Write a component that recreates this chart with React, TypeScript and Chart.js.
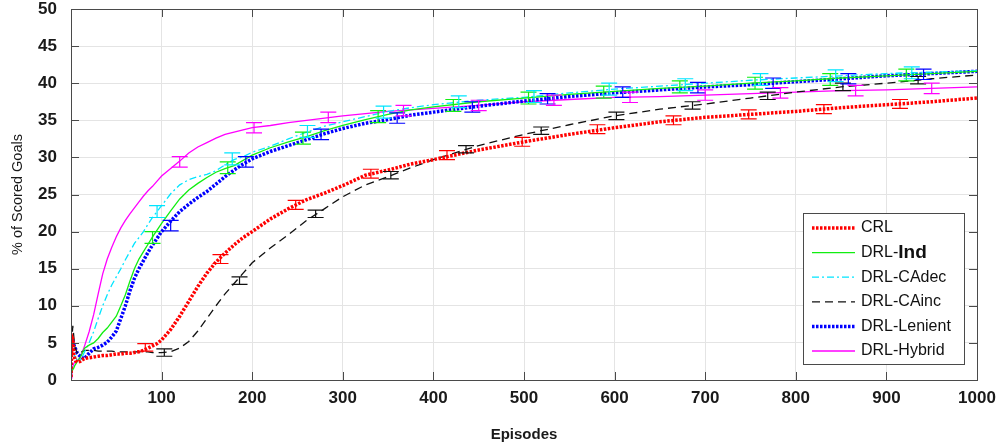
import React, { useEffect, useRef } from "react";
import { Chart, registerables } from "chart.js";

Chart.register(...registerables);

const EPISODES = [0, 1, 2, 3, 4, 5, 7, 10, 12, 15, 20, 25, 30, 35, 40, 45, 50, 55, 60, 65, 70, 75, 80, 85, 90, 95, 100, 110, 120, 130, 140, 150, 160, 170, 180, 190, 200, 220, 240, 260, 280, 300, 325, 350, 375, 400, 450, 500, 550, 600, 650, 700, 750, 800, 850, 900, 950, 1000];

const CRL = [0.4, 5.8, 5.5, 3.5, 3.0, 2.6, 2.4, 2.5, 2.7, 2.9, 3.0, 3.1, 3.2, 3.3, 3.3, 3.4, 3.5, 3.5, 3.6, 3.6, 3.7, 3.8, 4.0, 4.3, 4.6, 4.9, 5.4, 6.8, 8.6, 10.6, 12.6, 14.4, 15.9, 17.1, 18.2, 19.2, 20.0, 21.7, 23.1, 24.3, 25.2, 26.2, 27.6, 28.3, 29.1, 29.7, 31.0, 32.1, 33.1, 34.0, 34.8, 35.4, 35.8, 36.2, 36.7, 37.1, 37.5, 38.0];
const DRL_IND = [1.0, 1.2, 1.4, 1.6, 1.9, 2.1, 2.5, 3.0, 3.5, 4.3, 4.7, 5.0, 5.6, 6.4, 7.0, 7.8, 8.6, 10.0, 11.5, 13.3, 15.0, 16.3, 17.3, 18.3, 19.3, 20.2, 21.1, 22.8, 24.4, 25.6, 26.5, 27.3, 28.0, 28.5, 28.9, 29.6, 30.3, 31.3, 32.1, 32.8, 33.6, 34.3, 35.1, 35.8, 36.4, 36.8, 37.5, 38.0, 38.5, 38.9, 39.3, 39.6, 40.0, 40.3, 40.7, 41.0, 41.3, 41.6];
const DRL_CADEC = [2.5, 3.5, 4.0, 3.8, 3.3, 3.0, 2.7, 2.6, 3.0, 3.8, 5.0, 6.5, 8.3, 10.0, 11.5, 12.8, 13.9, 15.0, 16.2, 17.3, 18.4, 19.2, 20.0, 21.0, 21.9, 22.7, 23.5, 25.1, 26.3, 27.0, 27.4, 27.7, 28.2, 29.0, 29.7, 30.1, 30.7, 31.5, 32.5, 33.4, 34.2, 34.8, 35.5, 36.2, 36.7, 37.1, 37.7, 38.1, 38.7, 39.2, 39.6, 40.0, 40.4, 40.7, 41.0, 41.3, 41.5, 41.7];
const DRL_CAINC = [3.0, 5.5, 7.3, 6.0, 4.6, 4.2, 3.6, 3.5, 3.8, 4.0, 4.0, 4.0, 3.9, 3.9, 3.9, 3.9, 3.8, 3.8, 3.8, 3.8, 3.8, 3.8, 3.8, 3.8, 3.7, 3.7, 3.7, 3.8, 4.3, 5.2, 6.6, 8.3, 10.0, 11.6, 13.0, 14.4, 15.8, 17.8, 19.6, 21.5, 23.1, 24.7, 26.3, 27.4, 28.6, 29.7, 31.6, 33.1, 34.4, 35.6, 36.5, 37.2, 38.0, 38.8, 39.5, 40.0, 40.6, 41.1];
const DRL_LENIENT = [3.5, 5.5, 5.3, 4.8, 4.5, 4.2, 3.6, 3.2, 3.0, 2.9, 3.6, 4.2, 4.4, 4.7, 5.1, 5.8, 6.6, 8.3, 10.0, 12.0, 13.7, 15.0, 16.1, 17.2, 18.2, 19.1, 20.0, 21.4, 22.7, 23.7, 24.6, 25.4, 26.4, 27.4, 28.3, 29.1, 29.8, 30.8, 31.6, 32.4, 33.2, 33.9, 34.6, 35.1, 35.7, 36.1, 36.9, 37.6, 38.2, 38.7, 39.1, 39.5, 39.8, 40.2, 40.6, 41.0, 41.3, 41.6];
const DRL_HYBRID = [0.3, 1.0, 1.8, 2.2, 2.4, 2.4, 2.6, 3.0, 3.6, 4.6, 6.5, 8.8, 11.6, 14.3, 16.3, 17.9, 19.3, 20.5, 21.5, 22.4, 23.2, 24.0, 24.8, 25.5, 26.1, 26.8, 27.5, 28.5, 29.5, 30.6, 31.4, 32.0, 32.6, 33.1, 33.4, 33.7, 34.0, 34.3, 34.7, 35.0, 35.3, 35.6, 35.9, 36.2, 36.4, 36.6, 37.0, 37.5, 37.8, 38.1, 38.2, 38.4, 38.6, 38.8, 39.0, 39.1, 39.3, 39.5];

// Error bars (episode, mean, half-width)
const CRL_ERR_EP = [82, 165, 248, 331, 415, 498, 581, 665, 748, 831, 915];
const CRL_ERR_MEAN = [4.4, 16.3, 23.6, 27.8, 30.3, 32.1, 33.8, 35.0, 35.8, 36.5, 37.2];
const CRL_ERR_HALF = [0.5, 0.6, 0.6, 0.6, 0.6, 0.6, 0.6, 0.6, 0.6, 0.6, 0.6];
const IND_ERR_EP = [90, 173, 256, 339, 422, 505, 588, 672, 755, 838, 922];
const IND_ERR_MEAN = [19.2, 28.6, 32.6, 35.5, 37.0, 38.0, 38.8, 39.5, 40.0, 40.5, 41.1];
const IND_ERR_HALF = [0.8, 0.8, 0.8, 0.8, 0.8, 0.8, 0.8, 0.8, 0.8, 0.8, 0.8];
const CADEC_ERR_EP = [95, 178, 261, 345, 428, 511, 594, 678, 761, 844, 928];
const CADEC_ERR_MEAN = [22.7, 29.8, 33.5, 36.1, 37.5, 38.2, 39.2, 39.8, 40.5, 41.0, 41.4];
const CADEC_ERR_HALF = [0.8, 0.8, 0.8, 0.8, 0.8, 0.8, 0.8, 0.8, 0.8, 0.8, 0.8];
const CAINC_ERR_EP = [103, 186, 270, 353, 436, 519, 602, 686, 769, 852, 935];
const CAINC_ERR_MEAN = [3.7, 13.4, 22.4, 27.6, 31.1, 33.6, 35.6, 37.0, 38.3, 39.5, 40.4];
const CAINC_ERR_HALF = [0.5, 0.5, 0.5, 0.5, 0.5, 0.5, 0.5, 0.5, 0.5, 0.5, 0.5];
const LEN_ERR_EP = [110, 193, 276, 360, 443, 526, 609, 692, 775, 858, 941];
const LEN_ERR_MEAN = [20.8, 29.4, 33.1, 35.3, 36.8, 37.9, 38.8, 39.4, 40.0, 40.6, 41.2];
const LEN_ERR_HALF = [0.7, 0.7, 0.7, 0.7, 0.7, 0.7, 0.7, 0.7, 0.7, 0.7, 0.7];
const HYB_ERR_EP = [120, 202, 284, 367, 450, 533, 617, 700, 783, 866, 950];
const HYB_ERR_MEAN = [29.4, 34.0, 35.4, 36.3, 37.0, 37.7, 38.1, 38.4, 38.7, 39.0, 39.3];
const HYB_ERR_HALF = [0.7, 0.7, 0.7, 0.7, 0.7, 0.7, 0.7, 0.7, 0.7, 0.7, 0.7];

const SERIES_LABELS = ["CRL", "DRL-Ind", "DRL-CAdec", "DRL-CAinc", "DRL-Lenient", "DRL-Hybrid"];
const X_TICKS = [100, 200, 300, 400, 500, 600, 700, 800, 900, 1000];
const Y_TICKS = [0, 5, 10, 15, 20, 25, 30, 35, 40, 45, 50];

const FONT = "'Liberation Sans', Arial, Helvetica, sans-serif";

const errorBarPlugin = {
  id: "errorBars",
  afterDatasetsDraw(chart: any) {
    const { ctx, scales } = chart;
    const xs = scales.x;
    const ys = scales.y;
    chart.data.datasets.forEach((ds: any) => {
      const eb = ds.errorBars;
      if (!eb) return;
      ctx.save();
      ctx.strokeStyle = ds.borderColor;
      ctx.lineWidth = 1.2;
      ctx.setLineDash([]);
      eb.ep.forEach((e: number, i: number) => {
        const px = xs.getPixelForValue(e);
        const top = ys.getPixelForValue(eb.mean[i] + eb.half[i]);
        const bot = ys.getPixelForValue(eb.mean[i] - eb.half[i]);
        const cap = 8;
        ctx.beginPath();
        ctx.moveTo(px, top);
        ctx.lineTo(px, bot);
        ctx.moveTo(px - cap, top);
        ctx.lineTo(px + cap, top);
        ctx.moveTo(px - cap, bot);
        ctx.lineTo(px + cap, bot);
        ctx.stroke();
      });
      ctx.restore();
    });
  },
};

const framePlugin = {
  id: "frame",
  afterDraw(chart: any) {
    const { ctx, chartArea, scales } = chart;
    const { left, right, top, bottom } = chartArea;
    ctx.save();
    ctx.strokeStyle = "#4a4a4a";
    ctx.lineWidth = 1;
    ctx.setLineDash([]);
    ctx.strokeRect(Math.round(left) + 0.5, Math.round(top) + 0.5, Math.round(right - left), Math.round(bottom - top));
    const tl = 8;
    ctx.beginPath();
    X_TICKS.forEach((v) => {
      const px = Math.round(scales.x.getPixelForValue(v)) + 0.5;
      ctx.moveTo(px, bottom);
      ctx.lineTo(px, bottom - tl);
      ctx.moveTo(px, top);
      ctx.lineTo(px, top + tl);
    });
    Y_TICKS.forEach((v) => {
      const py = Math.round(scales.y.getPixelForValue(v)) + 0.5;
      ctx.moveTo(left, py);
      ctx.lineTo(left + tl, py);
      ctx.moveTo(right, py);
      ctx.lineTo(right - tl, py);
    });
    ctx.stroke();

    // legend
    const bx = right - 174;
    const by = top + 204;
    const bw = 161;
    const bh = 151;
    ctx.fillStyle = "#ffffff";
    ctx.fillRect(bx, by, bw, bh);
    ctx.strokeStyle = "#4a4a4a";
    ctx.strokeRect(bx + 0.5, by + 0.5, bw, bh);
    chart.data.datasets.forEach((ds: any, i: number) => {
      const cy = by + 15 + i * 24.6;
      ctx.save();
      ctx.strokeStyle = ds.borderColor;
      ctx.lineWidth = ds.borderWidth;
      ctx.setLineDash(ds.borderDash || []);
      ctx.beginPath();
      ctx.moveTo(bx + 9, cy);
      ctx.lineTo(bx + 52, cy);
      ctx.stroke();
      ctx.restore();
      ctx.fillStyle = "#111";
      ctx.textBaseline = "middle";
      ctx.textAlign = "left";
      const tx = bx + 58;
      if (ds.label === "DRL-Ind") {
        ctx.font = `16px ${FONT}`;
        ctx.fillText("DRL-", tx, cy);
        const w = ctx.measureText("DRL-").width;
        ctx.font = `bold 19px ${FONT}`;
        ctx.fillText("Ind", tx + w, cy);
      } else {
        ctx.font = `16px ${FONT}`;
        ctx.fillText(ds.label, tx, cy);
      }
    });
    ctx.restore();
  },
};

function pts(vals: number[]) {
  return EPISODES.map((x, i) => ({ x, y: vals[i] }));
}

export default function App() {
  const ref = useRef<HTMLCanvasElement | null>(null);
  useEffect(() => {
    if (!ref.current) return;
    const chart = new Chart(ref.current, {
      type: "line",
      data: {
        datasets: [
          {
            label: SERIES_LABELS[0],
            data: pts(CRL),
            borderColor: "#ff0000",
            borderWidth: 3.5,
            borderDash: [2.5, 1.5],
            errorBars: { ep: CRL_ERR_EP, mean: CRL_ERR_MEAN, half: CRL_ERR_HALF },
          } as any,
          {
            label: SERIES_LABELS[1],
            data: pts(DRL_IND),
            borderColor: "#11ee11",
            borderWidth: 1.3,
            borderDash: [],
            errorBars: { ep: IND_ERR_EP, mean: IND_ERR_MEAN, half: IND_ERR_HALF },
          } as any,
          {
            label: SERIES_LABELS[2],
            data: pts(DRL_CADEC),
            borderColor: "#00e5ff",
            borderWidth: 1.3,
            borderDash: [7, 3, 2, 3],
            errorBars: { ep: CADEC_ERR_EP, mean: CADEC_ERR_MEAN, half: CADEC_ERR_HALF },
          } as any,
          {
            label: SERIES_LABELS[3],
            data: pts(DRL_CAINC),
            borderColor: "#111111",
            borderWidth: 1.3,
            borderDash: [8, 5],
            errorBars: { ep: CAINC_ERR_EP, mean: CAINC_ERR_MEAN, half: CAINC_ERR_HALF },
          } as any,
          {
            label: SERIES_LABELS[4],
            data: pts(DRL_LENIENT),
            borderColor: "#0000ff",
            borderWidth: 3.5,
            borderDash: [2.5, 1.5],
            errorBars: { ep: LEN_ERR_EP, mean: LEN_ERR_MEAN, half: LEN_ERR_HALF },
          } as any,
          {
            label: SERIES_LABELS[5],
            data: pts(DRL_HYBRID),
            borderColor: "#ff00ff",
            borderWidth: 1.3,
            borderDash: [],
            errorBars: { ep: HYB_ERR_EP, mean: HYB_ERR_MEAN, half: HYB_ERR_HALF },
          } as any,
        ],
      },
      options: {
        animation: false,
        responsive: false,
        maintainAspectRatio: false,
        layout: { padding: { top: 9, right: 22, left: 0, bottom: 0 } },
        elements: { point: { radius: 0 }, line: { tension: 0, borderCapStyle: "butt" } },
        plugins: { legend: { display: false }, tooltip: { enabled: false } },
        scales: {
          x: {
            type: "linear",
            min: 0,
            max: 1000,
            afterFit: (s: any) => {
              s.height = 66;
              s.paddingLeft = 0;
              s.paddingRight = 0;
            },
            afterBuildTicks: (s: any) => {
              s.ticks = [0, ...X_TICKS].map((v) => ({ value: v }));
            },
            ticks: {
              padding: 8,
              color: "#1a1a1a",
              font: { family: FONT, size: 17, weight: "bold" },
              callback: (v: any) => (v === 0 ? "" : String(v)),
              maxRotation: 0,
            },
            grid: { color: "#e4e4e4", drawTicks: false },
            border: { display: false },
            title: {
              display: true,
              text: "Episodes",
              color: "#1a1a1a",
              font: { family: FONT, size: 15, weight: "bold" },
              padding: { top: 4, bottom: 2 },
            },
          },
          y: {
            type: "linear",
            min: 0,
            max: 50,
            afterFit: (s: any) => {
              s.width = 71;
              s.paddingTop = 0;
              s.paddingBottom = 0;
            },
            afterBuildTicks: (s: any) => {
              s.ticks = Y_TICKS.map((v) => ({ value: v }));
            },
            ticks: {
              padding: 14,
              color: "#1a1a1a",
              font: { family: FONT, size: 17, weight: "bold" },
            },
            grid: { color: "#e4e4e4", drawTicks: false },
            border: { display: false },
            title: {
              display: true,
              text: "% of Scored Goals",
              color: "#1a1a1a",
              font: { family: FONT, size: 14.5 },
              padding: { top: 9, bottom: 4 },
            },
          },
        },
      },
      plugins: [errorBarPlugin, framePlugin],
    } as any);
    return () => chart.destroy();
  }, []);
  return (
    <div style={{ position: "fixed", left: 0, top: 0, width: 999, height: 446, background: "#fff" }}>
      <canvas ref={ref} width={999} height={446} style={{ width: 999, height: 446, display: "block" }} />
    </div>
  );
}
